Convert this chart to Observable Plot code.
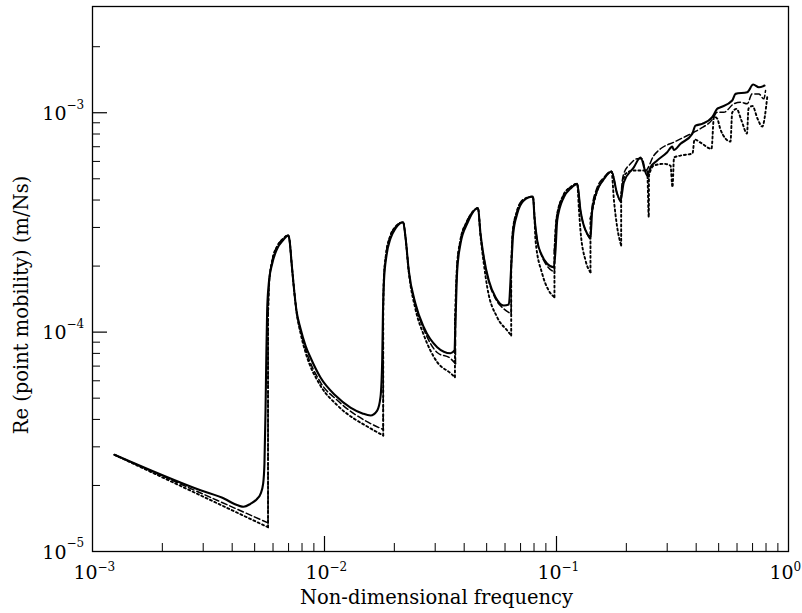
<!DOCTYPE html>
<html>
<head>
<meta charset="utf-8">
<script src="https://cdn.jsdelivr.net/npm/d3@7"></script>
<script src="https://cdn.jsdelivr.net/npm/@observablehq/plot@0.6"></script>
<style>
  html, body { margin: 0; padding: 0; background: white; overflow: hidden; }
  #chart { width: 802px; height: 613px; }
</style>
</head>
<body>
<div id="chart"></div>
<script>
// ---- Data ----
const solidX = [1.244e-3, 2.92e-3, 3.74e-3, 4.07e-3, 4.48e-3, 4.80e-3, 5.13e-3, 5.30e-3, 5.44e-3, 5.51e-3, 5.57e-3, 5.61e-3, 5.66e-3, 5.75e-3, 5.95e-3, 6.25e-3, 6.64e-3, 6.97e-3,
  7.07e-3, 7.21e-3, 7.35e-3, 7.57e-3, 7.88e-3, 8.28e-3, 8.70e-3, 9.61e-3, 1.115e-2, 1.294e-2, 1.458e-2, 1.579e-2, 1.687e-2, 1.743e-2, 1.773e-2, 1.787e-2, 1.805e-2, 1.850e-2, 1.925e-2, 2.023e-2, 2.184e-2,
  2.234e-2, 2.308e-2, 2.467e-2, 2.679e-2, 3.060e-2, 3.492e-2, 3.633e-2, 3.670e-2, 3.733e-2, 3.857e-2, 4.122e-2, 4.588e-2,
  4.703e-2, 4.861e-2, 5.108e-2, 5.459e-2, 5.927e-2, 6.229e-2, 6.379e-2, 6.508e-2, 6.771e-2, 7.231e-2, 7.918e-2,
  8.037e-2, 8.255e-2, 8.614e-2, 9.118e-2, 9.736e-2, 9.90e-2, 0.1007, 0.1075, 0.1149, 0.1228,
  0.1269, 0.1356, 0.1401, 0.1425, 0.1498, 0.1594, 0.1726,
  0.1826, 0.1887, 0.1950, 0.2154, 0.2302,
  0.2460, 0.2542, 0.2717, 0.3001, 0.3153, 0.3204, 0.3424, 0.3845, 0.3972, 0.4246, 0.4690, 0.4928, 0.5093, 0.5719, 0.5910, 0.6637, 0.7045, 0.7447, 0.7882];
const solidY = [2.76e-5, 1.90e-5, 1.73e-5, 1.65e-5, 1.60e-5, 1.65e-5, 1.74e-5, 1.83e-5, 2.04e-5, 2.51e-5, 4.39e-5, 7.42e-5, 1.255e-4, 1.66e-4, 2.05e-4, 2.40e-4, 2.63e-4, 2.76e-4,
  2.62e-4, 2.08e-4, 1.666e-4, 1.255e-4, 1.039e-4, 8.69e-5, 7.66e-5, 6.21e-5, 5.14e-5, 4.53e-5, 4.26e-5, 4.17e-5, 4.39e-5, 5.05e-5, 7.42e-5, 1.255e-4, 1.719e-4, 2.23e-4, 2.67e-4, 2.97e-4, 3.17e-4,
  2.71e-4, 1.909e-4, 1.346e-4, 1.053e-4, 8.54e-5, 8.01e-5, 8.25e-5, 1.129e-4, 1.909e-4, 2.53e-4, 3.12e-4, 3.68e-4,
  2.81e-4, 2.19e-4, 1.719e-4, 1.443e-4, 1.322e-4, 1.336e-4, 1.976e-4, 2.81e-4, 3.46e-4, 3.98e-4, 4.15e-4,
  3.34e-4, 2.62e-4, 2.26e-4, 2.05e-4, 1.976e-4, 2.35e-4, 3.23e-4, 4.12e-4, 4.51e-4, 4.74e-4,
  3.58e-4, 2.81e-4, 2.71e-4, 3.58e-4, 4.42e-4, 4.96e-4, 5.40e-4,
  4.27e-4, 3.98e-4, 4.81e-4, 5.64e-4, 6.25e-4,
  5.17e-4, 5.64e-4, 6.06e-4, 6.61e-4, 7.01e-4, 6.77e-4, 7.22e-4, 8.01e-4, 8.74e-4, 8.90e-4, 9.54e-4, 1.042e-3, 1.059e-3, 1.137e-3, 1.219e-3, 1.240e-3, 1.345e-3, 1.307e-3, 1.330e-3];

const dashedX = [1.244e-3, 5.71e-3, 5.71e-3, 5.78e-3, 5.95e-3, 6.25e-3, 6.64e-3, 6.97e-3,
  7.07e-3, 7.21e-3, 7.35e-3, 7.57e-3, 7.88e-3, 8.28e-3, 9.61e-3, 1.138e-2, 1.579e-2, 1.791e-2, 1.791e-2, 1.80e-2, 1.84e-2, 1.91e-2, 2.01e-2, 2.184e-2,
  2.234e-2, 2.308e-2, 2.467e-2, 2.679e-2, 3.060e-2, 3.492e-2, 3.67e-2, 3.67e-2, 3.72e-2, 3.84e-2, 4.10e-2, 4.40e-2, 4.588e-2,
  4.703e-2, 4.861e-2, 5.108e-2, 5.459e-2, 5.927e-2, 6.379e-2, 6.379e-2, 6.47e-2, 6.75e-2, 7.2e-2, 7.918e-2,
  8.037e-2, 8.255e-2, 8.614e-2, 9.118e-2, 9.80e-2, 9.80e-2, 0.1000, 0.1070, 0.1149, 0.1228,
  0.1269, 0.1356, 0.1401, 0.1418, 0.1490, 0.1594, 0.1726,
  0.1826, 0.1900, 0.1910, 0.1950, 0.2084, 0.2227, 0.2341, 0.2418, 0.2627, 0.2807, 0.3204, 0.3539, 0.3907, 0.4176, 0.4690, 0.4928, 0.5262, 0.5810, 0.6210, 0.6637, 0.6975, 0.7447, 0.7825, 0.7962];
const dashedY = [2.76e-5, 1.35e-5, 1.20e-4, 1.70e-4, 2.12e-4, 2.46e-4, 2.67e-4, 2.76e-4,
  2.62e-4, 2.08e-4, 1.666e-4, 1.255e-4, 1.02e-4, 8.4e-5, 5.9e-5, 4.88e-5, 3.83e-5, 3.60e-5, 1.20e-4, 1.72e-4, 2.25e-4, 2.70e-4, 3.00e-4, 3.17e-4,
  2.71e-4, 1.909e-4, 1.33e-4, 1.03e-4, 8.07e-5, 7.58e-5, 7.17e-5, 1.13e-4, 1.95e-4, 2.58e-4, 3.18e-4, 3.58e-4, 3.68e-4,
  2.81e-4, 2.19e-4, 1.70e-4, 1.42e-4, 1.277e-4, 1.212e-4, 1.98e-4, 2.85e-4, 3.55e-4, 4.02e-4, 4.15e-4,
  3.34e-4, 2.62e-4, 2.24e-4, 2.00e-4, 1.875e-4, 2.35e-4, 3.30e-4, 4.20e-4, 4.58e-4, 4.74e-4,
  3.58e-4, 2.80e-4, 2.66e-4, 3.60e-4, 4.50e-4, 5.05e-4, 5.40e-4,
  4.27e-4, 3.91e-4, 4.60e-4, 5.27e-4, 5.85e-4, 6.17e-4, 6.17e-4, 5.45e-4, 6.38e-4, 6.85e-4, 7.34e-4, 7.73e-4, 8.15e-4, 8.47e-4, 9.30e-4, 1.005e-3, 1.005e-3, 1.098e-3, 1.117e-3, 1.098e-3, 1.219e-3, 1.219e-3, 1.157e-3, 1.262e-3];

const dottedX = [1.244e-3, 5.71e-3, 5.71e-3, 5.78e-3, 5.95e-3, 6.25e-3, 6.64e-3, 6.97e-3,
  7.07e-3, 7.21e-3, 7.35e-3, 7.57e-3, 7.88e-3, 8.28e-3, 9.61e-3, 1.138e-2, 1.579e-2, 1.791e-2, 1.791e-2, 1.80e-2, 1.84e-2, 1.91e-2, 2.01e-2, 2.184e-2,
  2.234e-2, 2.308e-2, 2.467e-2, 2.679e-2, 3.060e-2, 3.492e-2, 3.65e-2, 3.65e-2, 3.72e-2, 3.84e-2, 4.10e-2, 4.40e-2, 4.588e-2,
  4.703e-2, 4.861e-2, 5.03e-2, 5.55e-2, 6.13e-2, 6.379e-2, 6.379e-2, 6.47e-2, 6.75e-2, 7.2e-2, 7.918e-2,
  8.037e-2, 8.12e-2, 8.68e-2, 9.26e-2, 9.80e-2, 9.80e-2, 0.1000, 0.1070, 0.1149, 0.1228,
  0.1250, 0.1269, 0.1334, 0.1401, 0.1401, 0.1425, 0.1498, 0.1594, 0.1726,
  0.1769, 0.1826, 0.1900, 0.1900, 0.1983, 0.2146, 0.2460, 0.2499, 0.2504, 0.2627, 0.2901, 0.3100, 0.3162, 0.3211, 0.3424, 0.3857, 0.3934, 0.4176, 0.4657, 0.4774, 0.4928, 0.5093, 0.5350, 0.5623, 0.5719, 0.5970, 0.6272, 0.6624, 0.6724, 0.6996, 0.7352, 0.7703, 0.8096];
const dottedY = [2.76e-5, 1.29e-5, 1.20e-4, 1.70e-4, 2.12e-4, 2.46e-4, 2.67e-4, 2.76e-4,
  2.62e-4, 2.08e-4, 1.666e-4, 1.24e-4, 9.9e-5, 8.1e-5, 5.7e-5, 4.63e-5, 3.64e-5, 3.38e-5, 1.20e-4, 1.72e-4, 2.25e-4, 2.70e-4, 3.00e-4, 3.17e-4,
  2.71e-4, 1.88e-4, 1.27e-4, 9.7e-5, 7.3e-5, 6.5e-5, 6.23e-5, 1.13e-4, 1.95e-4, 2.58e-4, 3.18e-4, 3.58e-4, 3.68e-4,
  2.75e-4, 2.05e-4, 1.60e-4, 1.169e-4, 1.017e-4, 9.65e-5, 1.98e-4, 2.85e-4, 3.55e-4, 4.02e-4, 4.15e-4,
  3.34e-4, 2.62e-4, 1.844e-4, 1.547e-4, 1.443e-4, 2.35e-4, 3.30e-4, 4.20e-4, 4.58e-4, 4.74e-4,
  3.60e-4, 2.90e-4, 2.12e-4, 1.875e-4, 3.30e-4, 3.58e-4, 4.42e-4, 4.96e-4, 5.40e-4,
  3.98e-4, 3.01e-4, 2.48e-4, 4.30e-4, 5.27e-4, 5.45e-4, 5.45e-4, 3.34e-4, 5.17e-4, 5.74e-4, 5.85e-4, 5.74e-4, 4.58e-4, 6.25e-4, 6.38e-4, 6.52e-4, 7.55e-4, 7.31e-4, 6.85e-4, 9.61e-4, 9.41e-4, 8.38e-4, 7.63e-4, 7.39e-4, 1.002e-3, 1.042e-3, 9.21e-4, 8.04e-4, 1.045e-3, 1.073e-3, 9.41e-4, 8.65e-4, 1.177e-3];

// ---- Axes: ticks and labels ----
const xMajorTicks = [1e-3, 1e-2, 1e-1, 1];
const xMinorTicks = [2e-3, 3e-3, 4e-3, 5e-3, 6e-3, 7e-3, 8e-3, 9e-3, 2e-2, 3e-2, 4e-2, 5e-2, 6e-2, 7e-2, 8e-2, 9e-2, 0.2, 0.3, 0.4, 0.5, 0.6, 0.7, 0.8, 0.9];
const xTickBase = "10";
const xTickExp = ["−3", "−2", "−1", "0"];
const yMajorTicks = [1e-5, 1e-4, 1e-3];
const yMinorTicks = [2e-5, 3e-5, 4e-5, 5e-5, 6e-5, 7e-5, 8e-5, 9e-5, 2e-4, 3e-4, 4e-4, 5e-4, 6e-4, 7e-4, 8e-4, 9e-4, 2e-3];
const yTickBase = "10";
const yTickExp = ["−5", "−4", "−3"];
const xTitle = "Non-dimensional frequency";
const yTitle = "Re (point mobility) (m/Ns)";

// Split a series into smooth pieces; a repeated x value is a vertical jump drawn straight.
function toPieces(xs, ys) {
  const rows = [];
  let seg = 0;
  for (let i = 0; i < xs.length; i++) {
    if (i > 0 && xs[i] === xs[i - 1]) {
      seg++;
      rows.push({x: xs[i - 1], y: ys[i - 1], seg});
      rows.push({x: xs[i], y: ys[i], seg});
      seg++;
    }
    rows.push({x: xs[i], y: ys[i], seg});
  }
  return rows;
}
const solid = toPieces(solidX, solidY);
const dashed = toPieces(dashedX, dashedY);
const dotted = toPieces(dottedX, dottedY);

const W = 802, H = 613;
const mL = 92, mR = 14, mT = 6, mB = 62;
const frameW = W - mL - mR, frameH = H - mT - mB;
const majorLen = 15, minorLen = 8;
const font = "'DejaVu Serif', serif";

const chart = Plot.plot({
  width: W, height: H,
  marginLeft: mL, marginRight: mR, marginTop: mT, marginBottom: mB,
  x: {type: "log", domain: [1e-3, 1], axis: null},
  y: {type: "log", domain: [1e-5, 3.05e-3], axis: null},
  style: {fontFamily: font, background: "white", color: "black", overflow: "hidden"},
  marks: [
    // inward ticks
    Plot.ruleX(xMinorTicks, {x: d => d, insetTop: frameH - minorLen, stroke: "black", strokeWidth: 1}),
    Plot.ruleX(xMajorTicks.slice(1, 3), {x: d => d, insetTop: frameH - majorLen, stroke: "black", strokeWidth: 1.2}),
    Plot.ruleY(yMinorTicks, {y: d => d, insetRight: frameW - minorLen, stroke: "black", strokeWidth: 1}),
    Plot.ruleY(yMajorTicks.slice(1), {y: d => d, insetRight: frameW - majorLen, stroke: "black", strokeWidth: 1.2}),
    // curves
    Plot.line(dotted, {x: "x", y: "y", z: "seg", curve: "monotone-x", stroke: "black", strokeWidth: 1.9, strokeDasharray: "2,2.8", strokeLinejoin: "round"}),
    Plot.line(dashed, {x: "x", y: "y", z: "seg", curve: "monotone-x", stroke: "black", strokeWidth: 1.5, strokeDasharray: "6,3", strokeLinejoin: "round"}),
    Plot.line(solid, {x: "x", y: "y", z: "seg", curve: "monotone-x", stroke: "black", strokeWidth: 2.1, strokeLinejoin: "round"}),
    Plot.frame({stroke: "black", strokeWidth: 1.3}),
    // tick labels
    Plot.text(xMajorTicks, {x: d => d, text: () => xTickBase, frameAnchor: "bottom", lineAnchor: "middle", textAnchor: "middle", dy: 21, dx: -7, fontSize: 19, fill: "black"}),
    Plot.text(xMajorTicks, {x: d => d, text: (d, i) => xTickExp[i], frameAnchor: "bottom", lineAnchor: "middle", textAnchor: "start", dy: 16, dx: 5, fontSize: 12, fill: "black"}),
    Plot.text(yMajorTicks, {y: d => d, text: () => yTickBase, frameAnchor: "left", lineAnchor: "middle", textAnchor: "end", dx: -26, dy: 1, fontSize: 19, fill: "black"}),
    Plot.text(yMajorTicks, {y: d => d, text: (d, i) => yTickExp[i], frameAnchor: "left", lineAnchor: "middle", textAnchor: "start", dx: -26, dy: -8, fontSize: 12, fill: "black"}),
    // axis titles
    Plot.text([xTitle], {text: d => d, frameAnchor: "bottom", lineAnchor: "middle", textAnchor: "middle", dy: 46, dx: -4, fontSize: 19.5, fill: "black"}),
    Plot.text([yTitle], {text: d => d, frameAnchor: "left", lineAnchor: "middle", textAnchor: "middle", dx: -71, dy: 26, rotate: -90, fontSize: 19.5, fill: "black"})
  ]
});
document.getElementById("chart").appendChild(chart);
</script>
</body>
</html>
